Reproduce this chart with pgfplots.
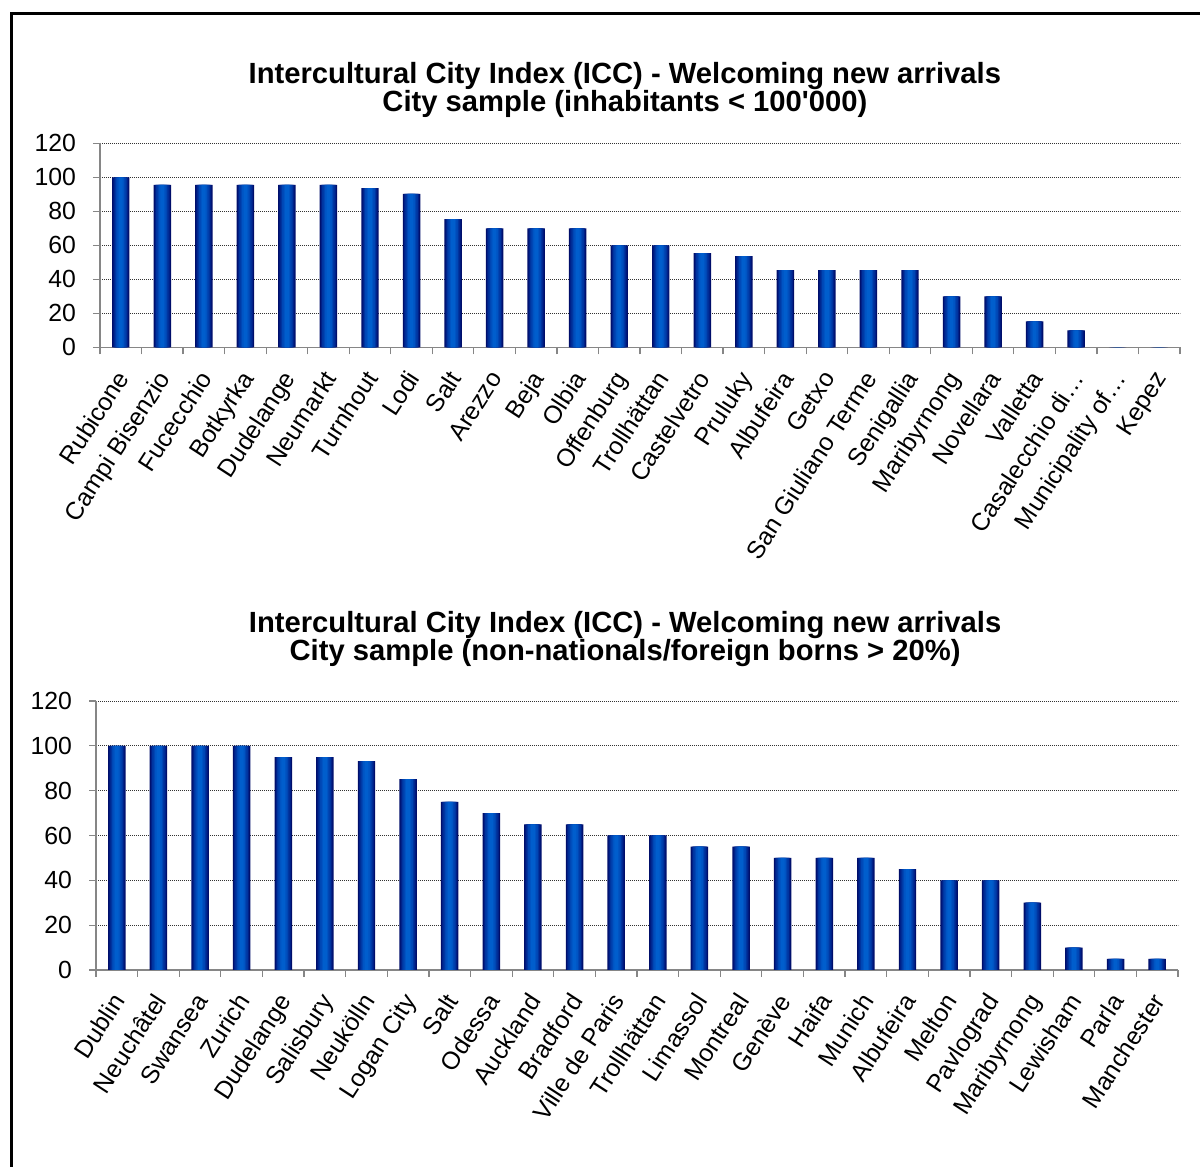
\documentclass[border=0pt]{standalone}
\usepackage{fontspec}
\setmainfont{Liberation Sans}
\usepackage{pgfplots}
\pgfplotsset{compat=1.18}

% bar gradient: dark navy edges to bright blue core
\definecolor{barA}{HTML}{000E6A}
\definecolor{barB}{HTML}{002088}
\definecolor{barC}{HTML}{00349F}
\definecolor{barD}{HTML}{0046B4}
\definecolor{barE}{HTML}{0054C3}
\definecolor{barF}{HTML}{005ECD}
\definecolor{axisGray}{HTML}{868686}

% Scores for cities with fewer than 100'000 inhabitants
\pgfplotstableread{
idx score
0  100
1  95.5
2  95.5
3  95.5
4  95.5
5  95.5
6  93.7
7  90.2
8  75.4
9  70
10 70
11 70
12 60
13 60
14 55.4
15 53.6
16 45.4
17 45.4
18 45.4
19 45.4
20 30
21 30
22 15.3
23 10
24 0
25 0
}\smallcities

% Scores for cities with more than 20% non-nationals / foreign born
\pgfplotstableread{
idx score
0  100
1  100
2  100
3  100
4  95
5  95
6  93.2
7  85.2
8  75
9  70
10 65
11 65
12 60
13 60
14 55
15 55
16 50
17 50
18 50
19 45
20 40
21 40
22 30
23 10
24 5
25 5
}\foreigncities

\pgfplotsset{
  every axis title shift=0pt,
  iccbars/.style={
    scale only axis,
    anchor=south west,
    xmin=-0.5, xmax=25.5,
    ymin=0, ymax=120,
    ytick={0,20,...,120},
    xtick={-0.5,0.5,...,25.5},
    x tick label as interval,
    axis x line*=bottom,
    axis y line*=left,
    axis line style={draw=axisGray, line width=0.75pt},
    tick align=outside,
    major tick length=3.5pt,
    tick style={draw=axisGray, line width=0.6pt},
    ymajorgrids,
    major grid style={draw=black!80, line width=0.45pt, dash pattern=on 0.6pt off 0.4pt},
    tick label style={font=\fontsize{12.4}{14}\selectfont},
    /pgf/number format/assume math mode=true,
    yticklabel style={xshift=-5pt},
    xticklabel style={xshift=-3pt, yshift=-7pt, rotate=57, anchor=north east, inner sep=0pt},
    title style={font=\bfseries\fontsize{14.6}{14}\selectfont, align=center, anchor=center},
  },
  % one layer of the shaded bar
  iccbar/.style={ybar, bar shift=0pt, draw=none, bar width=#1},
}

% the shaded bars, drawn as nested layers from one data table
\newcommand\iccbarplot[1]{%
  \addplot[iccbar=0.42, fill=barA] table[x=idx, y=score] {#1};
  \addplot[iccbar=0.36, fill=barB] table[x=idx, y=score] {#1};
  \addplot[iccbar=0.30, fill=barC] table[x=idx, y=score] {#1};
  \addplot[iccbar=0.23, fill=barD] table[x=idx, y=score] {#1};
  \addplot[iccbar=0.16, fill=barE] table[x=idx, y=score] {#1};
  \addplot[iccbar=0.09, fill=barF] table[x=idx, y=score] {#1};
}

\begin{document}
\begin{tikzpicture}
\path[use as bounding box] (0,0) rectangle (600pt,583.5pt);
\draw[line width=1.5pt] (5.5pt,-2pt) -- (5.5pt,576.5pt) -- (602pt,576.5pt);

\begin{axis}[iccbars,
  at={(50pt,409.85pt)}, width=540pt, height=102pt,
  title={Intercultural City Index (ICC) - Welcoming new arrivals\\City sample (inhabitants < 100\textquotesingle 000)},
  title style={at={(axis description cs:0.486,1.2637)}},
  xticklabels={Rubicone,Campi Bisenzio,Fucecchio,Botkyrka,Dudelange,Neumarkt,Turnhout,Lodi,Salt,Arezzo,Beja,Olbia,Offenburg,Trollhättan,Castelvetro,Pruluky,Albufeira,Getxo,San Giuliano Terme,Senigallia,Maribyrnong,Novellara,Valletta,Casalecchio di…,Municipality of…,Kepez},
]
\iccbarplot{\smallcities}
\end{axis}

\begin{axis}[iccbars,
  at={(48pt,98.5pt)}, width=541pt, height=134.5pt,
  title={Intercultural City Index (ICC) - Welcoming new arrivals\\City sample (non-nationals/foreign borns > 20\%)},
  title style={at={(axis description cs:0.489,1.229)}},
  xticklabels={Dublin,Neuchâtel,Swansea,Zurich,Dudelange,Salisbury,Neukölln,Logan City,Salt,Odessa,Auckland,Bradford,Ville de Paris,Trollhättan,Limassol,Montreal,Genève,Haifa,Munich,Albufeira,Melton,Pavlograd,Maribyrnong,Lewisham,Parla,Manchester},
]
\iccbarplot{\foreigncities}
\end{axis}
\end{tikzpicture}
\end{document}
